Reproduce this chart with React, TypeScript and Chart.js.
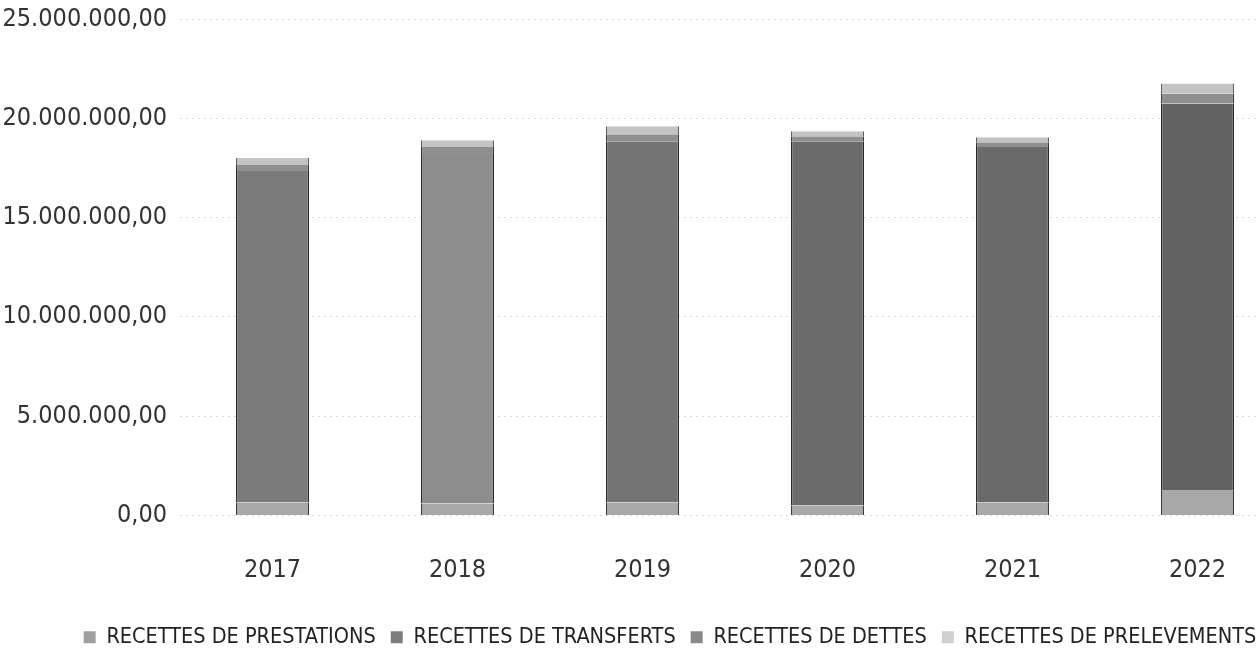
import React, { useEffect, useRef } from "react";
import { Chart, registerables } from "chart.js";

Chart.register(...registerables);

const years = ["2017", "2018", "2019", "2020", "2021", "2022"];
const prestations = [650000, 600000, 650000, 500000, 650000, 1250000];
const transferts = [16700000, 17600000, 18200000, 18350000, 17900000, 19500000];
const dettes = [300000, 350000, 350000, 250000, 250000, 500000];
const prelevements = [350000, 350000, 400000, 250000, 250000, 500000];
const yTicks = [0, 5000000, 10000000, 15000000, 20000000, 25000000];

const FONT = '"Liberation Sans Narrow", "DejaVu Sans Condensed", "Arial Narrow", sans-serif';

function fmt(v: number): string {
  const s = Math.round(v).toString();
  const parts: string[] = [];
  for (let i = s.length; i > 0; i -= 3) parts.unshift(s.slice(Math.max(0, i - 3), i));
  return parts.join(".") + ",00";
}

const transfertColors = ["#7a7a7a", "#8d8d8d", "#747474", "#6b6b6b", "#6a6a6a", "#626262"];

export default function App() {
  const ref = useRef<HTMLCanvasElement | null>(null);
  useEffect(() => {
    if (!ref.current) return;
    const chart = new Chart(ref.current, {
      type: "bar",
      data: {
        labels: years,
        datasets: [
          { label: "RECETTES DE PRESTATIONS", data: prestations, backgroundColor: "#a9a9a9", borderColor: "#3a3a3a", borderWidth: { left: 1.5, right: 1.5, top: 0, bottom: 0 } as any },
          { label: "RECETTES DE TRANSFERTS", data: transferts, backgroundColor: transfertColors, borderColor: "#2a2a2a", borderWidth: { left: 1.5, right: 1.5, top: 0, bottom: 0 } as any },
          { label: "RECETTES DE DETTES", data: dettes, backgroundColor: "#8f8f8f", borderColor: "#3a3a3a", borderWidth: { left: 1.5, right: 1.5, top: 0, bottom: 0 } as any },
          { label: "RECETTES DE PRELEVEMENTS", data: prelevements, backgroundColor: "#c4c4c4", borderColor: "#555", borderWidth: { left: 1, right: 1, top: 0, bottom: 0 } as any },
        ],
      },
      options: {
        responsive: false,
        animation: false,
        devicePixelRatio: 1,
        layout: { padding: { top: 0, left: 0, right: 0, bottom: 0 } },
        datasets: { bar: { categoryPercentage: 1, barPercentage: 0.395 } },
        plugins: {
          tooltip: { enabled: false },
          legend: {
            position: "bottom",
            labels: {
              boxWidth: 12,
              boxHeight: 12,
              padding: 15,
              color: "#222",
              font: { family: FONT, size: 21.5 },
              generateLabels: (c: any) => {
                const base = Chart.defaults.plugins.legend.labels.generateLabels(c);
                const cols = ["#a0a0a0", "#7d7d7d", "#8a8a8a", "#cfcfcf"];
                return base.map((l: any, i: number) => ({ ...l, fillStyle: cols[i], strokeStyle: "#bbb", lineWidth: 0 }));
              },
            },
          },
        },
        scales: {
          x: {
            stacked: true,
            grid: { display: false, drawTicks: false },
            border: { display: false },
            ticks: { color: "#333", padding: 40, font: { family: FONT, size: 25 } },
            afterFit: (s: any) => { s.height = 96; },
          },
          y: {
            stacked: true,
            min: 0,
            max: 25000000,
            afterBuildTicks: (s: any) => { s.ticks = yTicks.map((v) => ({ value: v })); },
            grid: { color: "#dcdcdc", borderDash: [2, 4], drawTicks: false } as any,
            border: { display: false, dash: [2, 4] },
            ticks: { color: "#333", padding: 13, font: { family: FONT, size: 25 }, callback: (v: any) => fmt(Number(v)) },
            afterFit: (s: any) => { s.width = 180; },
          },
          y2: {
            position: "right",
            display: true,
            grid: { display: false, drawTicks: false },
            border: { display: false },
            ticks: { display: false },
            afterFit: (s: any) => { s.width = 50; },
          },
        },
      },
    });
    return () => chart.destroy();
  }, []);
  return (
    <div style={{ position: "fixed", left: 0, top: 0, width: 1259, height: 660, overflow: "hidden", background: "#fff" }}>
      <canvas ref={ref} width={1340} height={667} style={{ display: "block", marginTop: -9 }} />
    </div>
  );
}
